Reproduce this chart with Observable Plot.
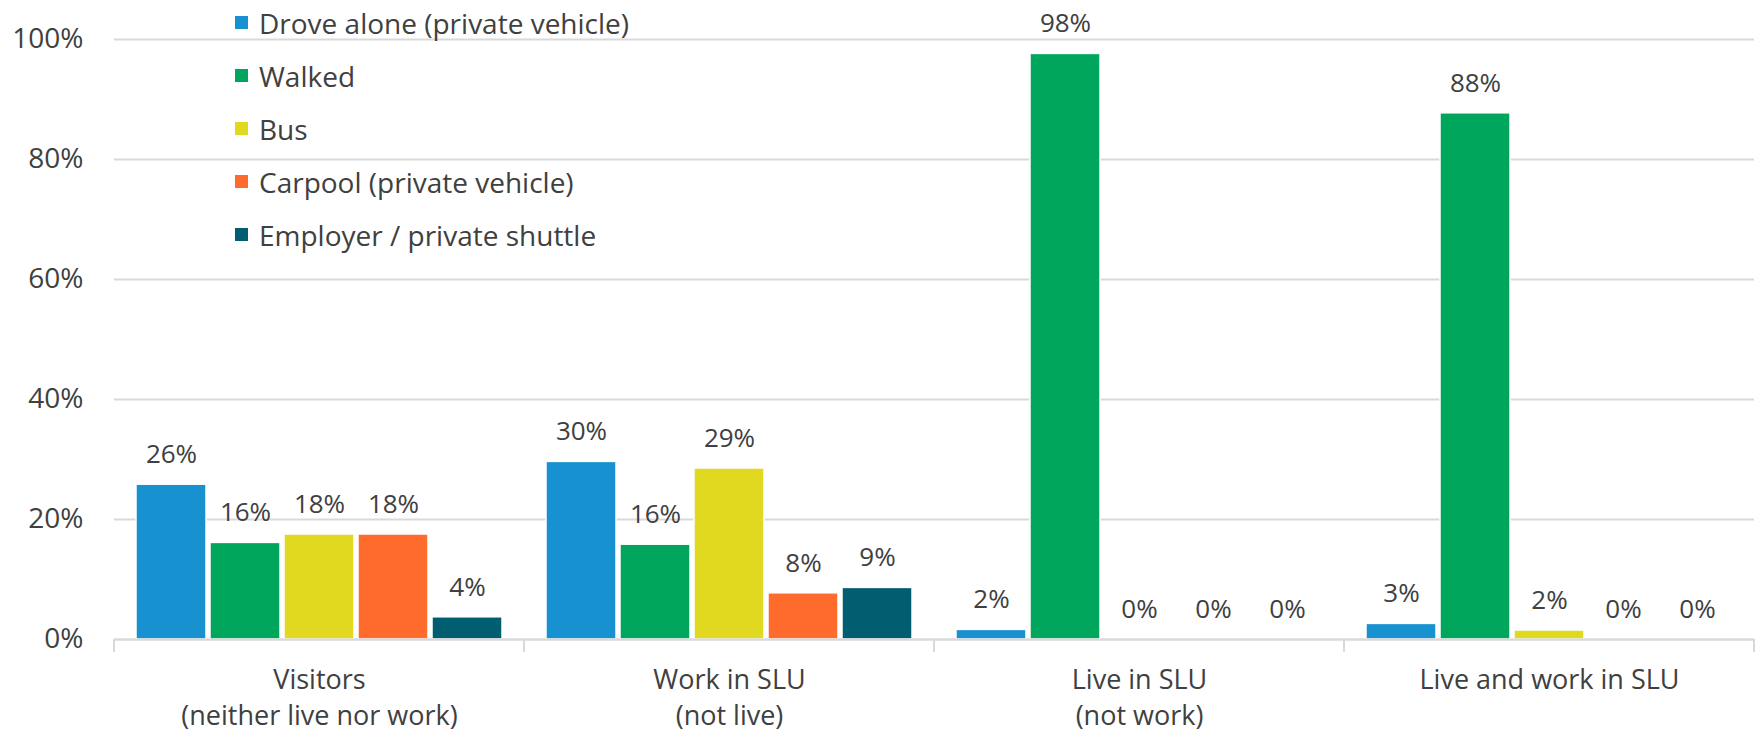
<!DOCTYPE html>
<html>
<head>
<meta charset="utf-8">
<script src="https://cdn.jsdelivr.net/npm/d3@7"></script>
<script src="https://cdn.jsdelivr.net/npm/@observablehq/plot@0.6"></script>
<style>
  html, body { margin: 0; padding: 0; background: #fff; }
  #wrap { position: relative; width: 1758px; height: 733px; font-family: "Open Sans", sans-serif; }
  #legend { position: absolute; left: 235px; top: -4px; }
  .item { height: 53px; display: flex; align-items: center; font-size: 28px; color: #404040; }
  .sw { width: 13px; height: 13px; margin-right: 11px; flex: none; }
</style>
</head>
<body>
<div id="wrap"><div id="legend"></div></div>
<script>
// Categories (groups) and series
const groups = [
  "Visitors\n(neither live nor work)",
  "Work in SLU\n(not live)",
  "Live in SLU\n(not work)",
  "Live and work in SLU"
];
const modes = [
  "Drove alone (private vehicle)",
  "Walked",
  "Bus",
  "Carpool (private vehicle)",
  "Employer / private shuttle"
];
const colors = ["#1891d0", "#00a65c", "#e0d920", "#ff6b2c", "#005e70"];

// Series values (percent), one per group
const droveAlone = [25.8, 29.6, 1.6, 2.6];
const walked     = [16.1, 15.8, 97.6, 87.7];
const bus        = [17.5, 28.5, 0, 1.5];
const carpool    = [17.5, 7.7, 0, 0];
const shuttle    = [3.7, 8.6, 0, 0];

const yTicks = [0, 20, 40, 60, 80, 100];

const series = [droveAlone, walked, bus, carpool, shuttle];
const data = [];
groups.forEach((g, gi) => {
  modes.forEach((m, mi) => {
    data.push({group: g, mode: m, value: series[mi][gi]});
  });
});

const ink = "#404040";
const grid = "#d9d9d9";

const plot = Plot.plot({
  width: 1758,
  height: 733,
  marginTop: 39,
  marginBottom: 94,
  marginLeft: 114,
  marginRight: 4,
  style: {fontFamily: "Open Sans, sans-serif", color: ink, background: "#fff"},
  fx: {domain: groups, padding: 0},
  x: {domain: modes, paddingInner: 0.06, paddingOuter: 0.28, axis: null},
  y: {domain: [0, 100], axis: null},
  color: {domain: modes, range: colors},
  marks: [
    Plot.gridY(yTicks, {stroke: grid, strokeOpacity: 1, strokeWidth: 2}),
    Plot.axisY(yTicks, {
      tickSize: 0, tickPadding: 31, fontSize: 28, fill: ink,
      tickFormat: d => d + "%", label: null, facetAnchor: "left"
    }),
    Plot.axisFx({
      anchor: "bottom", tickSize: 0, tickPadding: 23, fontSize: 27,
      lineHeight: 1.36, fill: ink, label: null
    }),
    Plot.barY(data, {
      fx: "group", x: "mode", y: "value", fill: "mode",
      stroke: "#fff", strokeWidth: 1.5
    }),
    Plot.ruleY([0], {stroke: grid, strokeWidth: 2}),
    Plot.text(data, {
      fx: "group", x: "mode", y: "value",
      text: d => Math.round(d.value) + "%",
      dy: -30, fontSize: 26, fill: ink
    })
  ]
});

// Group separator ticks below the baseline, placed with the fx and y scales
const fx = plot.scale("fx");
const ys = plot.scale("y");
const y0 = ys.apply(0);
const bounds = groups.map(g => fx.apply(g));
bounds.push(fx.apply(groups[groups.length - 1]) + fx.bandwidth);
d3.select(plot).append("g")
  .selectAll("line")
  .data(bounds)
  .join("line")
  .attr("x1", d => d).attr("x2", d => d)
  .attr("y1", y0).attr("y2", y0 + 13)
  .attr("stroke", grid).attr("stroke-width", 2);

const wrap = document.getElementById("wrap");
wrap.insertBefore(plot, wrap.firstChild);

// Legend
const legend = d3.select("#legend");
modes.forEach((m, i) => {
  const it = legend.append("div").attr("class", "item");
  it.append("div").attr("class", "sw").style("background", colors[i]);
  it.append("span").text(m);
});
</script>
</body>
</html>
